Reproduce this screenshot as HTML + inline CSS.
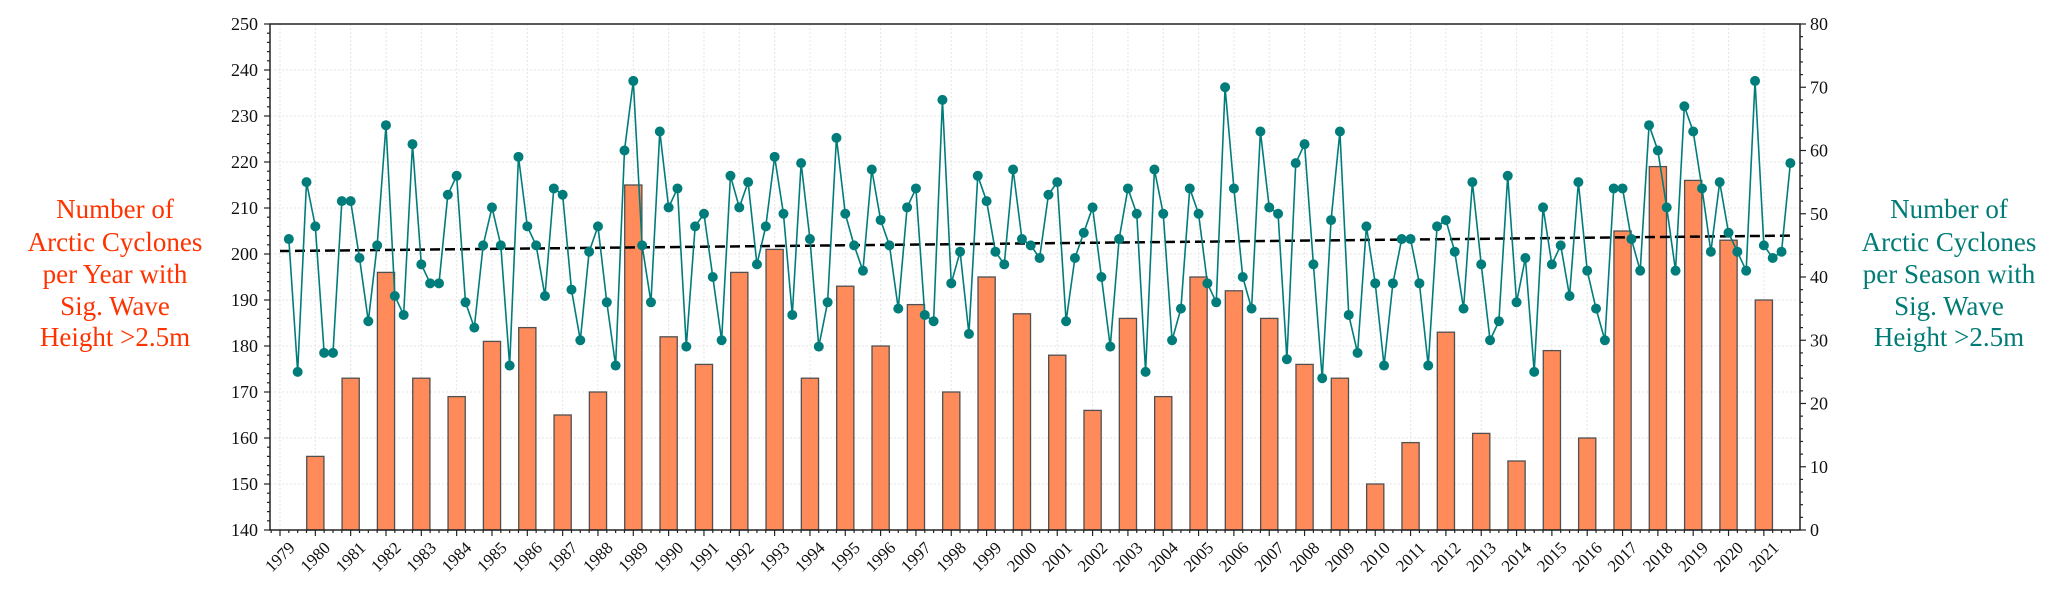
<!DOCTYPE html>
<html><head><meta charset="utf-8">
<style>
html,body{margin:0;padding:0;background:#fff;}
svg{display:block;font-family:"Liberation Serif","Times New Roman",serif;}
</style></head>
<body>
<svg id="chart" width="2067" height="599" viewBox="0 0 2067 599"></svg>
<script>
const years=[1980,1981,1982,1983,1984,1985,1986,1987,1988,1989,1990,1991,1992,1993,1994,1995,1996,1997,1998,1999,2000,2001,2002,2003,2004,2005,2006,2007,2008,2009,2010,2011,2012,2013,2014,2015,2016,2017,2018,2019,2020,2021];
const annualCounts=[156,173,196,173,169,181,184,165,170,215,182,176,196,201,173,193,180,189,170,195,187,178,166,186,169,195,192,186,176,173,150,159,183,161,155,179,160,205,219,216,203,190];
const seasonStart=1979.25;
const seasonCounts=[46,25,55,48,28,28,52,52,43,33,45,64,37,34,61,42,39,39,53,56,36,32,45,51,45,26,59,48,45,37,54,53,38,30,44,48,36,26,60,71,45,36,63,51,54,29,48,50,40,30,
56,51,55,42,48,59,50,34,58,46,29,36,62,50,45,41,57,49,45,35,51,54,34,33,68,39,44,31,56,
52,44,42,57,46,45,43,53,55,33,43,47,51,40,29,46,54,50,25,57,50,30,35,54,50,39,36,70,54,
40,35,63,51,50,27,58,61,42,24,49,63,34,28,48,39,26,39,46,46,39,26,48,49,44,35,55,42,30,
33,56,36,43,25,51,42,45,37,55,41,35,30,54,54,46,41,64,60,51,41,67,63,54,44,55,47,44,41,71,45,43,44,58];
const tickYears=[];for(let y=1979;y<=2021;y++)tickYears.push(y);
const leftTicks=[140,150,160,170,180,190,200,210,220,230,240,250];
const rightTicks=[0,10,20,30,40,50,60,70,80];

const NS="http://www.w3.org/2000/svg";
const svg=document.getElementById('chart');
const L=270,R=1800,T=24,B=530;
const X=t=>280+(t-1979)*35.33;
const YL=v=>B-(v-140)*(B-T)/110;
const YR=v=>B-v*(B-T)/80;
function mk(tag,attrs,parent){const e=document.createElementNS(NS,tag);for(const k in attrs)e.setAttribute(k,attrs[k]);(parent||svg).appendChild(e);return e;}

// grid
const grid=mk('g',{});


tickYears.forEach(y=>{mk('line',{x1:X(y),x2:X(y),y1:T,y2:B,stroke:'#e6e6e6','stroke-width':1,'stroke-dasharray':'2,2'},grid);});
leftTicks.forEach(v=>{mk('line',{x1:L,x2:R,y1:YL(v),y2:YL(v),stroke:'#e6e6e6','stroke-width':1,'stroke-dasharray':'2,2'},grid);});

// bars
const bars=mk('g',{});


years.forEach((y,i)=>{
  const b=mk('rect',{x:X(y)-8.6,y:YL(annualCounts[i]),width:17.2,height:B-YL(annualCounts[i]),fill:'#ff8a5a',stroke:'#505050','stroke-width':1.3},bars);
  
  
});

// trend (least squares on seasonal series)
const n=seasonCounts.length;let sx=0,sy=0,sxx=0,sxy=0;
seasonCounts.forEach((v,i)=>{const t=seasonStart+0.25*i;sx+=t;sy+=v;sxx+=t*t;sxy+=t*v;});
const slope=(n*sxy-sx*sy)/(n*sxx-sx*sx),icpt=(sy-slope*sx)/n;
const t0=1979,t1=seasonStart+0.25*(n-1);
const trend=mk('line',{x1:X(t0),y1:YR(icpt+slope*t0),x2:X(t1),y2:YR(icpt+slope*t1),stroke:'#000','stroke-width':2.5,'stroke-dasharray':'10,5'});



// seasonal line + points
const pts=seasonCounts.map((v,i)=>X(seasonStart+0.25*i).toFixed(2)+','+YR(v).toFixed(2)).join(' ');
const line=mk('polyline',{points:pts,fill:'none',stroke:'#007d7a','stroke-width':1.6});


const dots=mk('g',{});


seasonCounts.forEach((v,i)=>{
  const c=mk('circle',{cx:X(seasonStart+0.25*i),cy:YR(v),r:5,fill:'#007d7a'},dots);
  
  
});

// frame
const frame=mk('rect',{x:L,y:T,width:R-L,height:B-T,fill:'none',stroke:'#222','stroke-width':1.5});



// left axis
const la=mk('g',{});


for(let v=140;v<=250;v+=2){const maj=(v%10===0);mk('line',{x1:L,x2:L-(maj?6:3),y1:YL(v),y2:YL(v),stroke:'#222','stroke-width':1.2},la);}
leftTicks.forEach(v=>{const t=mk('text',{x:258,y:YL(v)+6,'text-anchor':'end','font-size':18,fill:'#111'},la);t.textContent=v;
  
  });
// right axis
const ra=mk('g',{});


for(let v=0;v<=80;v+=2){const maj=(v%10===0);mk('line',{x1:R,x2:R+(maj?6:3),y1:YR(v),y2:YR(v),stroke:'#222','stroke-width':1.2},ra);}
rightTicks.forEach(v=>{const t=mk('text',{x:1810,y:YR(v)+6,'text-anchor':'start','font-size':18,fill:'#111'},ra);t.textContent=v;
  
  });
// x axis
const xa=mk('g',{});


for(let q=1978.75;q<=2021.9;q+=0.25){const maj=Math.abs(q-Math.round(q))<1e-6;mk('line',{x1:X(q),x2:X(q),y1:B,y2:B+(maj?6:3),stroke:'#222','stroke-width':1.2},xa);}
tickYears.forEach(y=>{const cx=X(y),cy=557;const t=mk('text',{x:cx,y:cy,'text-anchor':'middle','dominant-baseline':'central','font-size':17,fill:'#111',transform:'rotate(-45 '+cx+' '+cy+')'},xa);t.textContent=y;
  
  });

// titles
function title(lines,cx,color,name){const g=mk('text',{'text-anchor':'middle','font-size':27,fill:color});
  
  
  const bl=[218,251,283,315,346];
  lines.forEach((s,i)=>{const ts=mk('tspan',{x:cx,y:bl[i]},g);ts.textContent=s;});}
title(['Number of','Arctic Cyclones','per Year with','Sig. Wave','Height >2.5m'],115,'#ff3300','left-axis-title');
title(['Number of','Arctic Cyclones','per Season with','Sig. Wave','Height >2.5m'],1949,'#007b76','right-axis-title');
</script>
</body></html>
